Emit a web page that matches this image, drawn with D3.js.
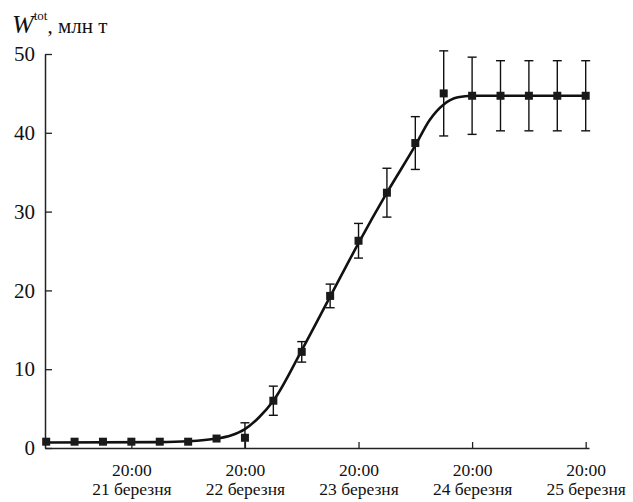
<!DOCTYPE html>
<html>
<head>
<meta charset="utf-8">
<script src="https://cdn.jsdelivr.net/npm/d3@7"></script>
<style>
	body { margin: 0; background: #fff; }
</style>
</head>
<body>
<svg class="chart" width="633" height="502"></svg>
<script>
// measured points, every 6 hours from 21 March 02:00
var pointTimes = [
	[21, 2], [21, 8], [21, 14], [21, 20],
	[22, 2], [22, 8], [22, 14], [22, 20],
	[23, 2], [23, 8], [23, 14], [23, 20],
	[24, 2], [24, 8], [24, 14], [24, 20],
	[25, 2], [25, 8], [25, 14], [25, 20]
];
var pointValues = [0.8, 0.8, 0.8, 0.8, 0.8, 0.8, 1.2, 1.3,
	6.0, 12.2, 19.3, 26.3, 32.4, 38.7, 45.0, 44.7,
	44.7, 44.7, 44.7, 44.7];
var pointErrors = [0, 0, 0, 0, 0, 0, 0, 1.9,
	1.85, 1.3, 1.5, 2.2, 3.1, 3.35, 5.4, 4.9,
	4.45, 4.45, 4.45, 4.45];

// fitted curve
var curveTimes = [
	[21, 2], [22, 2], [22, 8], [22, 14], [22, 17], [22, 20], [22, 23],
	[23, 2], [23, 8], [23, 14], [23, 20], [24, 2], [24, 8], [24, 11],
	[24, 14], [24, 17], [24, 20], [25, 20]
];
var curveValues = [0.7, 0.75, 0.85, 1.2, 1.6, 2.4, 3.9,
	6.0, 12.4, 19.2, 26.0, 32.4, 38.4, 41.6,
	43.6, 44.5, 44.7, 44.7];

var tickDays = [21, 22, 23, 24, 25];
var yTicks = [0, 10, 20, 30, 40, 50];

var serif = '"Liberation Serif", "Times New Roman", "DejaVu Serif", serif';

function day(d, h, m) { return new Date(2000, 2, d, h, m || 0); }

var svg = d3.select('svg.chart');

var x = d3.scaleTime()
	.domain([day(21, 1, 45), day(25, 20, 42)])
	.range([45, 589]);
var y = d3.scaleLinear().domain([0, 50]).range([448, 54]);

// axes
var yAxis = d3.axisLeft(y).tickValues(yTicks)
	.tickSizeInner(-7).tickSizeOuter(0).tickPadding(10);
var gy = svg.append('g').attr('transform', 'translate(45,0)').call(yAxis)
	.attr('font-family', serif).attr('font-size', 22);
gy.select('.domain').attr('stroke', '#222').attr('stroke-width', 1.5);
gy.selectAll('.tick line').attr('stroke', '#222').attr('stroke-width', 1.3);
gy.selectAll('.tick text').attr('fill', '#111')
	.style('font-family', serif).style('font-size', '21px');

var xAxis = d3.axisBottom(x).tickValues(tickDays.map(d => day(d, 20)))
	.tickSizeInner(-6).tickSizeOuter(0).tickFormat('');
var gx = svg.append('g').attr('transform', 'translate(0,448)').call(xAxis)
	.attr('font-family', serif);
gx.select('.domain').attr('stroke', '#222').attr('stroke-width', 1.5);
gx.selectAll('.tick line').attr('stroke', '#222').attr('stroke-width', 1.3);
gx.selectAll('.tick text').remove();

gx.selectAll('.tick').each(function(d) {
	var tk = d3.select(this);
	tk.append('text')
		.attr('text-anchor', 'middle').attr('y', 28)
		.style('font-family', serif).style('font-size', '17.5px')
		.attr('fill', '#111').text('20:00');
	tk.append('text')
		.attr('text-anchor', 'middle').attr('y', 47)
		.style('font-family', serif).style('font-size', '17.5px')
		.attr('fill', '#111').text(d.getDate() + ' березня');
});

// fitted curve
var line = d3.line()
	.x(d => x(day(d[0][0], d[0][1])))
	.y(d => y(d[1]))
	.curve(d3.curveMonotoneX);
svg.append('path')
	.datum(d3.zip(curveTimes, curveValues))
	.attr('d', line)
	.attr('fill', 'none')
	.attr('stroke', '#111')
	.attr('stroke-width', 2.6);

// error bars
var pts = d3.zip(pointTimes, pointValues, pointErrors);
var eb = svg.append('g').selectAll('g')
	.data(pts.filter(d => d[2] > 0))
	.enter().append('g')
	.attr('stroke', '#111').attr('stroke-width', 1.4);
eb.append('line')
	.attr('x1', d => x(day(d[0][0], d[0][1])))
	.attr('x2', d => x(day(d[0][0], d[0][1])))
	.attr('y1', d => y(d[1] + d[2]))
	.attr('y2', d => y(Math.max(0, d[1] - d[2])));
eb.append('line')
	.attr('x1', d => x(day(d[0][0], d[0][1])) - 4.5)
	.attr('x2', d => x(day(d[0][0], d[0][1])) + 4.5)
	.attr('y1', d => y(d[1] + d[2]))
	.attr('y2', d => y(d[1] + d[2]));
eb.filter(d => d[1] - d[2] > 0).append('line')
	.attr('x1', d => x(day(d[0][0], d[0][1])) - 4.5)
	.attr('x2', d => x(day(d[0][0], d[0][1])) + 4.5)
	.attr('y1', d => y(d[1] - d[2]))
	.attr('y2', d => y(d[1] - d[2]));

// square markers
svg.append('g').selectAll('rect')
	.data(pts)
	.enter().append('rect')
	.attr('x', d => x(day(d[0][0], d[0][1])) - 4)
	.attr('y', d => y(d[1]) - 4)
	.attr('width', 8)
	.attr('height', 8)
	.attr('fill', '#1a1a1a');

// axis title
var title = svg.append('text').attr('x', 12).attr('y', 33)
	.style('font-family', serif).attr('fill', '#111');
title.append('tspan').text('W').style('font-style', 'italic').style('font-size', '26px');
title.append('tspan').text('tot').style('font-size', '13px').attr('dy', -13);
title.append('tspan').text(', млн т').style('font-size', '21px').attr('dy', 13);
</script>
</body>
</html>
